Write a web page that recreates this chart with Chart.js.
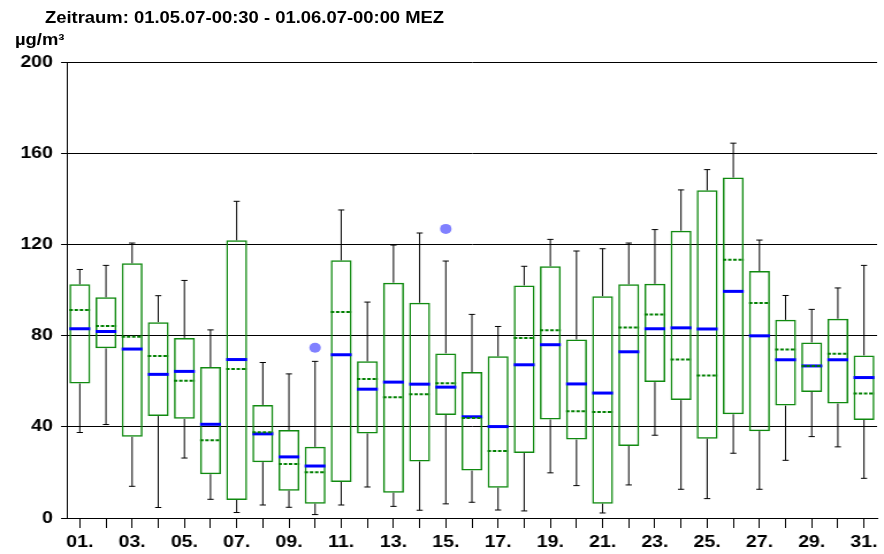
<!DOCTYPE html>
<html>
<head>
<meta charset="utf-8">
<script src="https://cdn.jsdelivr.net/npm/chart.js@4.4.0/dist/chart.umd.min.js"></script>
<style>
  html, body { margin: 0; padding: 0; background: #fff; overflow: hidden; }
  #wrap { position: relative; width: 768px; height: 554px; transform: scaleX(1.151); transform-origin: 0 0; }
  #chart { position: absolute; left: 0; top: 0; width: 768px; height: 554px; }
  .lbl { position: absolute; font: bold 16px "Liberation Sans", Arial, sans-serif; line-height: 16px; white-space: nowrap; color: #000; }
</style>
</head>
<body>
<div id="wrap">
  <canvas id="chart" width="768" height="554"></canvas>
  <div class="lbl" id="title" style="left:39px; top:9.5px;">Zeitraum: 01.05.07-00:30 - 01.06.07-00:00 MEZ</div>
  <div class="lbl" id="unit" style="left:13px; top:32px;">µg/m³</div>
</div>
<script>
// Days of May 2007
const days = ["01.", "02.", "03.", "04.", "05.", "06.", "07.", "08.", "09.", "10.",
  "11.", "12.", "13.", "14.", "15.", "16.", "17.", "18.", "19.", "20.",
  "21.", "22.", "23.", "24.", "25.", "26.", "27.", "28.", "29.", "30.", "31."];

// Box plot statistics (µg/m³)
const whiskerHigh = [109.0, 110.8, 120.6, 97.5, 104.2, 82.5, 138.9, 68.2, 63.2, 68.7,
  135.1, 94.7, 119.7, 125.0, 112.7, 89.3, 84.0, 110.4, 122.2, 117.1,
  118.1, 120.6, 126.5, 143.9, 152.8, 164.4, 121.9, 97.6, 91.5, 100.9, 110.8];
const q3 = [102.5, 96.8, 111.7, 85.9, 79.0, 66.2, 121.8, 49.6, 38.6, 31.2,
  113.0, 68.7, 103.2, 94.4, 72.2, 64.0, 70.9, 102.0, 110.4, 78.3,
  97.3, 102.5, 102.7, 126.0, 143.7, 149.3, 108.3, 86.9, 77.0, 87.4, 71.3];
const median = [83.0, 81.8, 74.1, 63.0, 64.3, 41.1, 69.5, 36.9, 26.8, 22.8,
  71.6, 56.5, 59.6, 58.7, 57.4, 44.4, 40.1, 67.2, 76.0, 58.8,
  54.8, 72.9, 83.0, 83.4, 82.9, 99.4, 79.9, 69.4, 66.7, 69.4, 61.6];
const mean = [91.2, 84.2, 79.5, 71.0, 60.2, 34.1, 65.3, 37.6, 23.7, 20.1,
  90.3, 61.0, 53.0, 54.3, 59.1, 43.9, 29.4, 79.0, 82.4, 46.8,
  46.5, 83.6, 89.3, 69.5, 62.5, 113.3, 94.3, 73.9, 66.7, 72.0, 54.6];
const q1 = [59.0, 74.4, 35.6, 44.7, 43.5, 19.2, 7.9, 24.5, 12.0, 6.3,
  15.8, 37.1, 11.1, 24.8, 45.2, 20.8, 13.3, 28.5, 43.2, 34.4,
  6.3, 31.6, 59.6, 51.7, 34.8, 45.5, 38.1, 49.3, 55.3, 50.2, 43.0];
const whiskerLow = [37.5, 41.0, 13.9, 4.6, 26.3, 8.2, 2.4, 5.7, 4.7, 1.5,
  5.7, 13.6, 5.1, 3.4, 6.2, 6.9, 3.5, 3.1, 19.8, 14.2,
  2.2, 14.5, 36.3, 12.6, 8.5, 28.4, 12.6, 25.3, 35.7, 31.2, 17.4];
const outliers = [null, null, null, null, null, null, null, null, null, 74.7,
  null, null, null, null, 126.8, null, null, null, null, null,
  null, null, null, null, null, null, null, null, null, null, null];

const yTicks = [0, 40, 80, 120, 160, 200];

// Whiskers, median and mean lines drawn on top of the boxes
const boxExtras = {
  id: "boxExtras",
  afterDatasetsDraw(chart) {
    const ctx = chart.ctx;
    const y = chart.scales.y;
    const boxes = chart.getDatasetMeta(0).data;
    ctx.save();
    boxes.forEach((bar, i) => {
      const cx = bar.x;
      const half = bar.width / 2;
      const cap = 2.7;

      ctx.setLineDash([]);
      ctx.strokeStyle = "#000";
      ctx.lineWidth = 1;
      ctx.beginPath();
      ctx.moveTo(cx, y.getPixelForValue(q3[i]));
      ctx.lineTo(cx, y.getPixelForValue(whiskerHigh[i]));
      ctx.moveTo(cx - cap, y.getPixelForValue(whiskerHigh[i]));
      ctx.lineTo(cx + cap, y.getPixelForValue(whiskerHigh[i]));
      ctx.moveTo(cx, y.getPixelForValue(q1[i]));
      ctx.lineTo(cx, y.getPixelForValue(whiskerLow[i]));
      ctx.moveTo(cx - cap, y.getPixelForValue(whiskerLow[i]));
      ctx.lineTo(cx + cap, y.getPixelForValue(whiskerLow[i]));
      ctx.stroke();

      // median
      ctx.strokeStyle = "#0000ff";
      ctx.lineWidth = 3;
      ctx.beginPath();
      ctx.moveTo(cx - half, y.getPixelForValue(median[i]));
      ctx.lineTo(cx + half, y.getPixelForValue(median[i]));
      ctx.stroke();

      // mean
      ctx.strokeStyle = "#008000";
      ctx.lineWidth = 2;
      ctx.setLineDash([3, 1.5]);
      ctx.beginPath();
      ctx.moveTo(cx - half, y.getPixelForValue(mean[i]));
      ctx.lineTo(cx + half, y.getPixelForValue(mean[i]));
      ctx.stroke();
    });
    ctx.restore();
  }
};

Chart.defaults.font.family = '"Liberation Sans", Arial, sans-serif';
Chart.defaults.color = "#000";

new Chart(document.getElementById("chart"), {
  type: "bar",
  data: {
    labels: days,
    datasets: [
      {
        label: "Box",
        data: q1.map((v, i) => [v, q3[i]]),
        backgroundColor: "rgba(0,0,0,0)",
        borderColor: "#108a10",
        borderWidth: 1.5,
        borderSkipped: false,
        barPercentage: 0.8,
        categoryPercentage: 1.0,
      },
      {
        type: "line",
        label: "Ausreißer",
        data: outliers,
        showLine: false,
        pointRadius: 5,
        pointBorderWidth: 0,
        pointBackgroundColor: "#8080ff",
        borderColor: "#8080ff",
      },
    ],
  },
  options: {
    responsive: false,
    animation: false,
    layout: { padding: { top: 62, right: 6, bottom: 0, left: 0 } },
    plugins: { legend: { display: false }, tooltip: { enabled: false } },
    scales: {
      x: {
        offset: true,
        grid: { offset: false, drawOnChartArea: false, color: "#000", tickLength: 10 },
        border: { color: "#000" },
        ticks: {
          autoSkip: false,
          maxRotation: 0,
          padding: 4,
          font: { size: 17, weight: "bold" },
          callback: (v, i) => (i % 2 === 0 ? days[i] : ""),
        },
        afterFit: (s) => { s.height = 36; },
      },
      y: {
        min: yTicks[0],
        max: yTicks[yTicks.length - 1],
        afterBuildTicks: (s) => { s.ticks = yTicks.map((v) => ({ value: v })); },
        grid: { color: "#000", tickLength: 5 },
        border: { color: "#000" },
        ticks: { padding: 7, font: { size: 17, weight: "bold" } },
        afterFit: (s) => { s.width = 58; },
      },
    },
  },
  plugins: [boxExtras],
});
</script>
</body>
</html>
